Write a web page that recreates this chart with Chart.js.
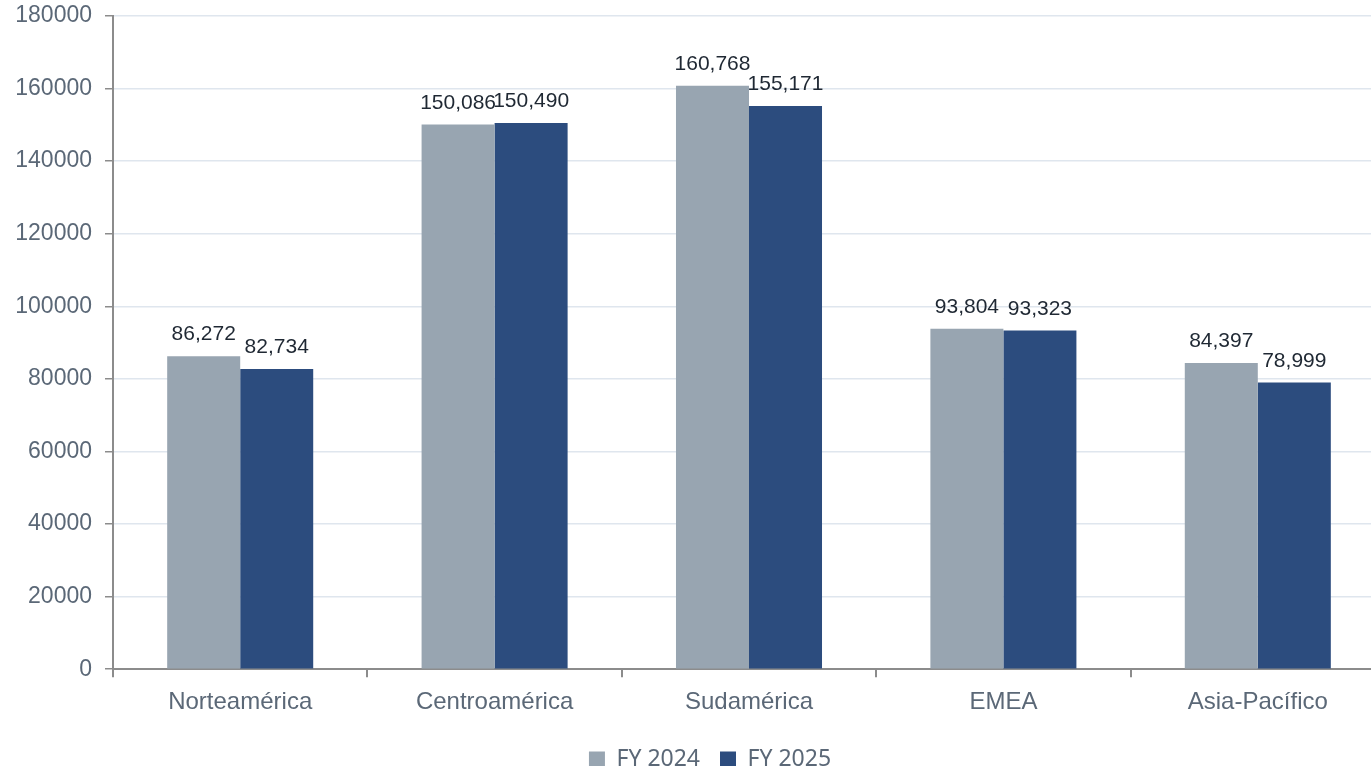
<!DOCTYPE html>
<html>
<head>
<meta charset="utf-8">
<script src="https://cdn.jsdelivr.net/npm/chart.js@4.4.1/dist/chart.umd.min.js"></script>
<style>
    html, body { margin: 0; padding: 0; background: #ffffff; overflow: hidden; }
    .chart-wrap { position: relative; width: 1420px; height: 766px; }
</style>
</head>
<body>
<div class="chart-wrap"><canvas id="chart"></canvas></div>
<script>
const regions = ["Norteamérica", "Centroamérica", "Sudamérica", "EMEA", "Asia-Pacífico"];
const fy2024 = [86272, 150086, 160768, 93804, 84397];
const fy2025 = [82734, 150490, 155171, 93323, 78999];
const seriesNames = ["FY 2024", "FY 2025"];
const yTicks = [0, 20000, 40000, 60000, 80000, 100000, 120000, 140000, 160000, 180000];

const AXIS_COLOR = "#8c8c8c";
const TEXT_COLOR = "#5b6877";

// 막대 위 값 표시
const barValueLabels = {
    id: "barValueLabels",
    afterDatasetsDraw(chart) {
        const ctx = chart.ctx;
        ctx.save();
        ctx.font = "21px 'Liberation Sans', Arial, sans-serif";
        ctx.fillStyle = "#1f2833";
        ctx.textAlign = "center";
        ctx.textBaseline = "alphabetic";
        chart.data.datasets.forEach((ds, i) => {
            chart.getDatasetMeta(i).data.forEach((bar, j) => {
                ctx.fillText(ds.data[j].toLocaleString("en-US"), bar.x, bar.y - 16);
            });
        });
        ctx.restore();
    }
};

new Chart(document.getElementById("chart"), {
    type: "bar",
    data: {
        labels: regions,
        datasets: [
            { label: seriesNames[0], data: fy2024, backgroundColor: "#98a5b1" },
            { label: seriesNames[1], data: fy2025, backgroundColor: "#2c4c7e" }
        ]
    },
    options: {
        animation: false,
        responsive: true,
        maintainAspectRatio: false,
        layout: { padding: { top: 16, right: 0, left: 0, bottom: -15 } },
        datasets: {
            bar: { categoryPercentage: 0.574, barPercentage: 1.0 }
        },
        plugins: {
            tooltip: { enabled: false },
            legend: {
                position: "bottom",
                labels: {
                    boxWidth: 16,
                    boxHeight: 16,
                    padding: 20,
                    color: TEXT_COLOR,
                    font: { family: "'Noto Sans', sans-serif", size: 23 }
                }
            }
        },
        scales: {
            x: {
                grid: {
                    offset: true,
                    drawOnChartArea: false,
                    drawTicks: true,
                    tickLength: 8,
                    tickColor: AXIS_COLOR,
                    lineWidth: 2
                },
                border: { color: AXIS_COLOR, width: 2 },
                ticks: {
                    color: TEXT_COLOR,
                    padding: 11,
                    font: { family: "'Liberation Sans', Arial, sans-serif", size: 24 }
                }
            },
            y: {
                min: 0,
                max: 180000,
                afterBuildTicks: (scale) => { scale.ticks = yTicks.map(v => ({ value: v })); },
                afterFit: (scale) => {
                    scale.width = 113;
                    scale.paddingTop = 0;       // 위쪽 여백은 layout.padding으로
                    scale.paddingBottom = 0;
                },
                grid: {
                    color: "#dfe6ee",
                    lineWidth: 1.5,
                    drawTicks: true,
                    tickLength: 8,
                    tickColor: AXIS_COLOR
                },
                border: { color: AXIS_COLOR, width: 2 },
                ticks: {
                    color: TEXT_COLOR,
                    padding: 13,
                    callback: (v) => String(v),
                    font: { family: "'Liberation Sans', Arial, sans-serif", size: 23, lineHeight: 1 }
                }
            },
            // 오른쪽 여백용 빈 축 (범례 가운데 맞춤)
            yRight: {
                position: "right",
                afterFit: (scale) => { scale.width = 35; },
                grid: { display: false, drawTicks: false },
                border: { display: false },
                ticks: { display: false }
            }
        }
    },
    plugins: [barValueLabels]
});
</script>
</body>
</html>
